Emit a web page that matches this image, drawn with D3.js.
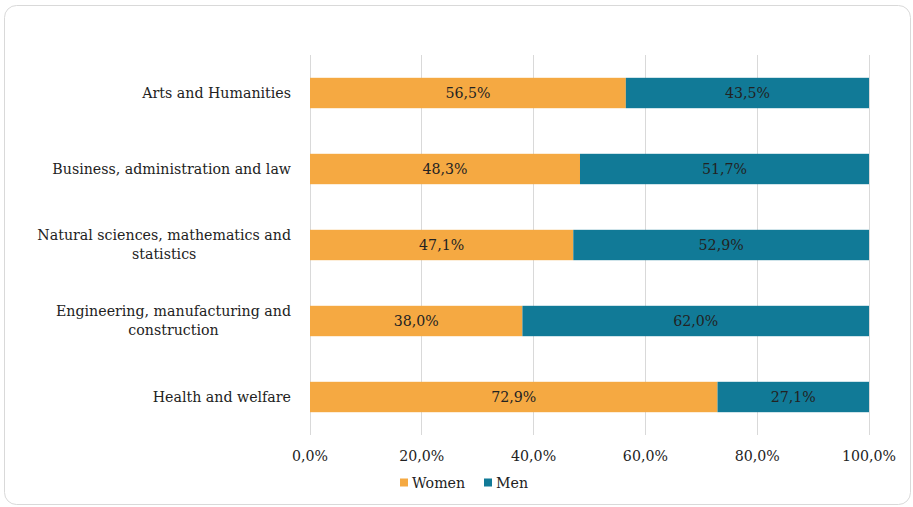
<!DOCTYPE html>
<html>
<head>
<meta charset="utf-8">
<script src="https://cdn.jsdelivr.net/npm/d3@7"></script>
<style>
  html, body { margin: 0; padding: 0; background: #fff; }
  svg { display: block; }
  text { font-family: "DejaVu Serif", serif; fill: #222; }
</style>
</head>
<body>
<svg id="chart" width="913" height="507"></svg>
<script>
// Fields of study (top to bottom)
const categories = [
  "Arts and Humanities",
  "Business, administration and law",
  "Natural sciences, mathematics and statistics",
  "Engineering, manufacturing and construction",
  "Health and welfare"
];
// Category labels split over lines
const categoryLines = [
  ["Arts and Humanities"],
  ["Business, administration and law"],
  ["Natural sciences, mathematics and", "statistics"],
  ["Engineering, manufacturing and", "construction"],
  ["Health and welfare"]
];
const women = [56.5, 48.3, 47.1, 38.0, 72.9];
const men = [43.5, 51.7, 52.9, 62.0, 27.1];
const seriesNames = ["Women", "Men"];
const seriesColors = ["#F5A942", "#117A97"];
const tickValues = [0, 20, 40, 60, 80, 100];

const svg = d3.select("#chart");
const fmt = v => v.toFixed(1).replace(".", ",") + "%";
const FS = "14.2px";

// Card outline
svg.append("rect")
  .attr("x", 4.5).attr("y", 5.5)
  .attr("width", 906).attr("height", 499)
  .attr("rx", 12).attr("ry", 12)
  .attr("fill", "#fff").attr("stroke", "#d9d9d9").attr("stroke-width", 1);

const plot = { left: 310, right: 869, top: 55, bottom: 435 };

const x = d3.scaleLinear().domain([0, 100]).range([plot.left, plot.right]);
const y = d3.scaleBand().domain(categories).range([plot.top, plot.bottom]).paddingInner(0.6).paddingOuter(0.3);

// Vertical gridlines
svg.append("g").selectAll("line").data(tickValues).join("line")
  .attr("x1", d => x(d)).attr("x2", d => x(d))
  .attr("y1", plot.top).attr("y2", plot.bottom)
  .attr("stroke", "#d9d9d9").attr("stroke-width", 1)
  .attr("shape-rendering", "crispEdges");

// Stacked bars
const rows = categories.map((c, i) => ({ cat: c, vals: [women[i], men[i]] }));
const stack = d3.stack().keys([0, 1]).value((d, k) => d.vals[k]);
const layers = stack(rows);

layers.forEach((layer, k) => {
  const g = svg.append("g");
  g.selectAll("rect").data(layer).join("rect")
    .attr("x", d => x(d[0]))
    .attr("width", d => x(d[1]) - x(d[0]))
    .attr("y", d => y(d.data.cat))
    .attr("height", y.bandwidth())
    .attr("fill", seriesColors[k]);
  g.selectAll("text").data(layer).join("text")
    .attr("x", d => (x(d[0]) + x(d[1])) / 2)
    .attr("y", d => y(d.data.cat) + y.bandwidth() / 2)
    .attr("dy", "0.35em")
    .attr("text-anchor", "middle")
    .style("font-size", FS)
    .text(d => fmt(d.data.vals[k]));
});

// Category axis labels
const catG = svg.append("g");
categoryLines.forEach((lines, i) => {
  const cy = y(categories[i]) + y.bandwidth() / 2;
  const t = catG.append("text")
    .attr("text-anchor", "end")
    .style("font-size", FS);
  const n = lines.length;
  lines.forEach((ln, j) => {
    t.append("tspan")
      .attr("x", 291)
      .attr("y", cy + (j - (n - 1) / 2) * 19)
      .attr("dy", "0.35em")
      .text(ln);
  });
  if (n > 1) {
    // continuation lines centred under the first line
    const w = t.select("tspan").node().getComputedTextLength();
    t.selectAll("tspan").filter((d, j) => j > 0)
      .attr("x", 291 - w / 2)
      .attr("text-anchor", "middle");
  }
});

// Value axis tick labels
svg.append("g").selectAll("text").data(tickValues).join("text")
  .attr("x", d => x(d))
  .attr("y", 456)
  .attr("dy", "0.35em")
  .attr("text-anchor", "middle")
  .style("font-size", FS)
  .text(d => d.toFixed(1).replace(".", ",") + "%");

// Legend
const legend = svg.append("g").attr("transform", "translate(0,483)");
const legendX = [400, 484];
seriesNames.forEach((name, k) => {
  legend.append("rect")
    .attr("x", legendX[k]).attr("y", -4.5)
    .attr("width", 8).attr("height", 8)
    .attr("fill", seriesColors[k]);
  legend.append("text")
    .attr("x", legendX[k] + 12).attr("y", 0)
    .attr("dy", "0.35em")
    .style("font-size", FS)
    .text(name);
});
</script>
</body>
</html>
